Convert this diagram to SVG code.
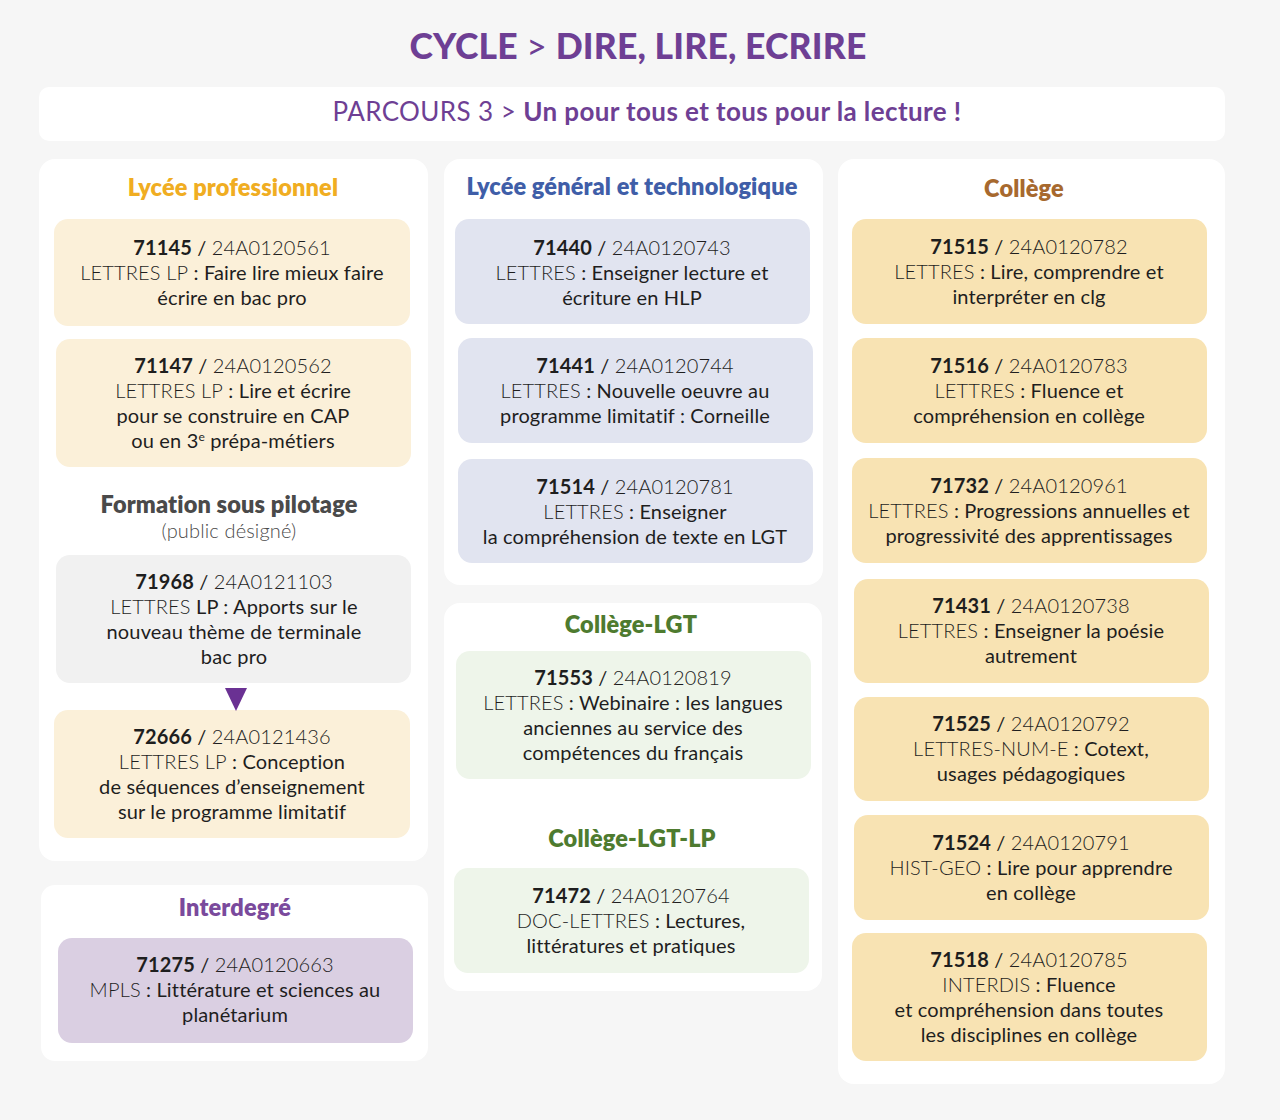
<svg xmlns="http://www.w3.org/2000/svg" width="1280" height="1120" viewBox="0 0 1280 1120">
<style>
text{font-family:Lato,"Noto Sans","Liberation Sans",sans-serif;text-anchor:middle;fill:#1e1e1e;font-size:20px;letter-spacing:0.15px}
.panel{fill:#ffffff}
.lp{fill:#fbf0d9}
.gr{fill:#f1f1f1}
.lg{fill:#e1e4f0}
.gn{fill:#eef5ea}
.cl{fill:#f8e3b3}
.id{fill:#dacfe2}
.n{font-weight:700}
.c{font-weight:300}
.h{font-size:23.5px;font-weight:800}
</style>
<rect x="0" y="0" width="1280" height="1120" fill="#f6f6f6"/>
<text x="638" y="59" style="font-size:35.5px;font-weight:900;fill:#6e3f94">CYCLE <tspan style="font-weight:400">&gt;</tspan> DIRE, LIRE, ECRIRE</text>
<g id="header">
<rect x="39" y="87" width="1186" height="54" rx="10" class="panel"/>
<text x="647" y="121" style="font-size:26px;letter-spacing:0.4px;fill:#6e3f94"><tspan style="font-weight:400">PARCOURS 3 &gt; </tspan><tspan style="font-weight:700">Un pour tous et tous pour la lecture !</tspan></text>
</g>

<g id="panel-lp">
<rect x="39" y="159" width="389" height="702" rx="16" class="panel"/>
<text x="233" y="196" class="h" style="fill:#f0ad22">Lycée professionnel</text>
<text x="229" y="513" class="h" style="fill:#4a4a4a">Formation sous pilotage</text>
<text x="229" y="538" class="c" style="fill:#4a4a4a">(public désigné)</text>
</g>
<g id="n71145">
<rect x="54" y="219" width="356" height="107" rx="14" class="lp"/>
<text x="232" y="255"><tspan class="n">71145</tspan> / <tspan class="c">24A0120561</tspan></text>
<text x="232" y="280"><tspan class="c">LETTRES LP</tspan> : Faire lire mieux faire</text>
<text x="232" y="305">écrire en bac pro</text>
</g>
<g id="n71147">
<rect x="56" y="339" width="355" height="128" rx="14" class="lp"/>
<text x="233" y="373"><tspan class="n">71147</tspan> / <tspan class="c">24A0120562</tspan></text>
<text x="233" y="398"><tspan class="c">LETTRES LP</tspan> : Lire et écrire</text>
<text x="233" y="423">pour se construire en CAP</text>
<text x="233" y="448">ou en 3<tspan style="font-size:12px" baseline-shift="super">e</tspan> prépa-métiers</text>
</g>
<g id="n71968">
<rect x="56" y="555" width="355" height="128" rx="14" class="gr"/>
<text x="234" y="589"><tspan class="n">71968</tspan> / <tspan class="c">24A0121103</tspan></text>
<text x="234" y="614"><tspan class="c">LETTRES</tspan> LP : Apports sur le</text>
<text x="234" y="639">nouveau thème de terminale</text>
<text x="234" y="664">bac pro</text>
</g>
<g id="n72666">
<rect x="54" y="710" width="356" height="128" rx="14" class="lp"/>
<text x="232" y="744"><tspan class="n">72666</tspan> / <tspan class="c">24A0121436</tspan></text>
<text x="232" y="769"><tspan class="c">LETTRES LP</tspan> : Conception</text>
<text x="232" y="794">de séquences d’enseignement</text>
<text x="232" y="819">sur le programme limitatif</text>
</g>

<g id="panel-interdegre">
<rect x="41" y="885" width="387" height="176" rx="14" class="panel"/>
<text x="235" y="916" class="h" style="fill:#7a4a9c">Interdegré</text>
</g>
<g id="n71275">
<rect x="58" y="938" width="355" height="105" rx="14" class="id"/>
<text x="235" y="972"><tspan class="n">71275</tspan> / <tspan class="c">24A0120663</tspan></text>
<text x="235" y="997"><tspan class="c">MPLS</tspan> : Littérature et sciences au</text>
<text x="235" y="1022">planétarium</text>
</g>

<g id="panel-lgt">
<rect x="444" y="159" width="379" height="426" rx="16" class="panel"/>
<text x="632" y="195" class="h" style="fill:#3f5ea8">Lycée général et technologique</text>
</g>
<g id="n71440">
<rect x="455" y="219" width="355" height="105" rx="14" class="lg"/>
<text x="632" y="255"><tspan class="n">71440</tspan> / <tspan class="c">24A0120743</tspan></text>
<text x="632" y="280"><tspan class="c">LETTRES</tspan> : Enseigner lecture et</text>
<text x="632" y="305">écriture en HLP</text>
</g>
<g id="n71441">
<rect x="458" y="338" width="355" height="105" rx="14" class="lg"/>
<text x="635" y="373"><tspan class="n">71441</tspan> / <tspan class="c">24A0120744</tspan></text>
<text x="635" y="398"><tspan class="c">LETTRES</tspan> : Nouvelle oeuvre au</text>
<text x="635" y="423">programme limitatif : Corneille</text>
</g>
<g id="n71514">
<rect x="458" y="459" width="355" height="104" rx="14" class="lg"/>
<text x="635" y="494"><tspan class="n">71514</tspan> / <tspan class="c">24A0120781</tspan></text>
<text x="635" y="519"><tspan class="c">LETTRES</tspan> : Enseigner</text>
<text x="635" y="544">la compréhension de texte en LGT</text>
</g>

<g id="panel-college-lgt">
<rect x="444" y="603" width="378" height="388" rx="16" class="panel"/>
<text x="631" y="633" class="h" style="fill:#4e7b2f">Collège-LGT</text>
<text x="632" y="847" class="h" style="fill:#4e7b2f">Collège-LGT-LP</text>
</g>
<g id="n71553">
<rect x="456" y="651" width="355" height="128" rx="14" class="gn"/>
<text x="633" y="685"><tspan class="n">71553</tspan> / <tspan class="c">24A0120819</tspan></text>
<text x="633" y="710"><tspan class="c">LETTRES</tspan> : Webinaire : les langues</text>
<text x="633" y="735">anciennes au service des</text>
<text x="633" y="760">compétences du français</text>
</g>
<g id="n71472">
<rect x="454" y="868" width="355" height="105" rx="14" class="gn"/>
<text x="631" y="903"><tspan class="n">71472</tspan> / <tspan class="c">24A0120764</tspan></text>
<text x="631" y="928"><tspan class="c">DOC-LETTRES</tspan> : Lectures,</text>
<text x="631" y="953">littératures et pratiques</text>
</g>

<g id="panel-college">
<rect x="838" y="159" width="387" height="925" rx="16" class="panel"/>
<text x="1024" y="197" class="h" style="fill:#a7692e">Collège</text>
</g>
<g id="n71515">
<rect x="852" y="219" width="355" height="105" rx="14" class="cl"/>
<text x="1029" y="254"><tspan class="n">71515</tspan> / <tspan class="c">24A0120782</tspan></text>
<text x="1029" y="279"><tspan class="c">LETTRES</tspan> : Lire, comprendre et</text>
<text x="1029" y="304">interpréter en clg</text>
</g>
<g id="n71516">
<rect x="852" y="338" width="355" height="105" rx="14" class="cl"/>
<text x="1029" y="373"><tspan class="n">71516</tspan> / <tspan class="c">24A0120783</tspan></text>
<text x="1029" y="398"><tspan class="c">LETTRES</tspan> : Fluence et</text>
<text x="1029" y="423">compréhension en collège</text>
</g>
<g id="n71732">
<rect x="852" y="458" width="355" height="105" rx="14" class="cl"/>
<text x="1029" y="493"><tspan class="n">71732</tspan> / <tspan class="c">24A0120961</tspan></text>
<text x="1029" y="518"><tspan class="c">LETTRES</tspan> : Progressions annuelles et</text>
<text x="1029" y="543">progressivité des apprentissages</text>
</g>
<g id="n71431">
<rect x="854" y="579" width="355" height="104" rx="14" class="cl"/>
<text x="1031" y="613"><tspan class="n">71431</tspan> / <tspan class="c">24A0120738</tspan></text>
<text x="1031" y="638"><tspan class="c">LETTRES</tspan> : Enseigner la poésie</text>
<text x="1031" y="663">autrement</text>
</g>
<g id="n71525">
<rect x="854" y="697" width="355" height="104" rx="14" class="cl"/>
<text x="1031" y="731"><tspan class="n">71525</tspan> / <tspan class="c">24A0120792</tspan></text>
<text x="1031" y="756"><tspan class="c">LETTRES-NUM-E</tspan> : Cotext,</text>
<text x="1031" y="781">usages pédagogiques</text>
</g>
<g id="n71524">
<rect x="854" y="815" width="355" height="105" rx="14" class="cl"/>
<text x="1031" y="850"><tspan class="n">71524</tspan> / <tspan class="c">24A0120791</tspan></text>
<text x="1031" y="875"><tspan class="c">HIST-GEO</tspan> : Lire pour apprendre</text>
<text x="1031" y="900">en collège</text>
</g>
<g id="n71518">
<rect x="852" y="933" width="355" height="128" rx="14" class="cl"/>
<text x="1029" y="967"><tspan class="n">71518</tspan> / <tspan class="c">24A0120785</tspan></text>
<text x="1029" y="992"><tspan class="c">INTERDIS</tspan> : Fluence</text>
<text x="1029" y="1017">et compréhension dans toutes</text>
<text x="1029" y="1042">les disciplines en collège</text>
</g>

<g id="connectors">
<polygon points="225,688 247,688 236,711" fill="#6a3193"/>
</g>
</svg>
